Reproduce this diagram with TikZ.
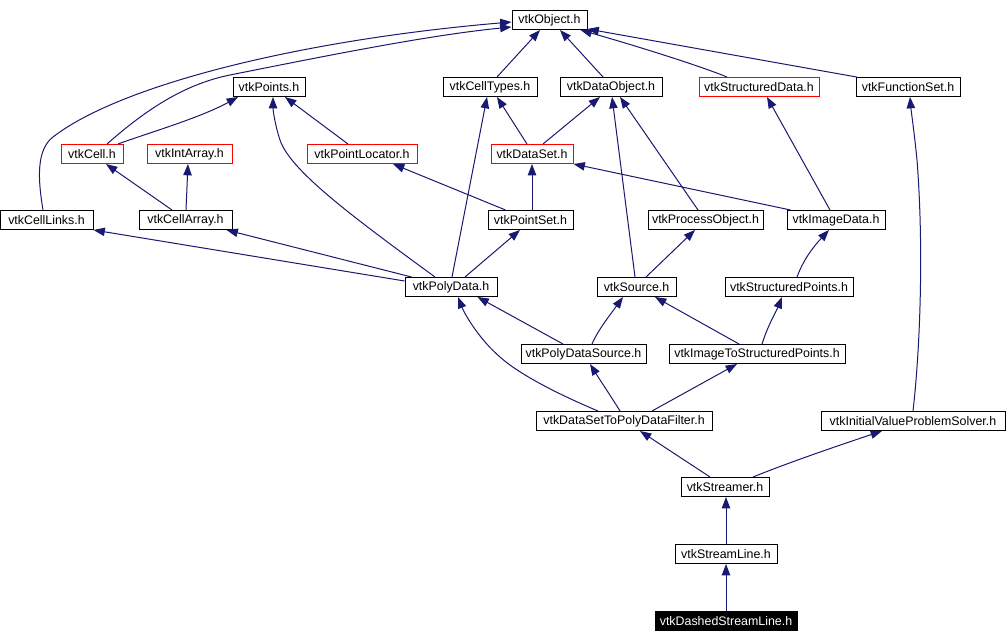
\documentclass[tikz,border=0pt]{standalone}
\usepackage{fontspec}
\setmainfont{Liberation Sans}
\usetikzlibrary{arrows.meta,calc}
\definecolor{edgeblue}{RGB}{25,25,112}
\definecolor{boxred}{RGB}{255,0,0}
\begin{document}
\begin{tikzpicture}[x=0.75pt,y=-0.75pt,
  box/.style={draw=black,line width=0.75pt,fill=white,inner sep=0pt,
    minimum height=14.25pt,font=\fontsize{9.3}{10}\selectfont,text=black},
  redbox/.style={box,draw=boxred},
  selbox/.style={box,fill=black,text=white},
  wd/.style={minimum width=#1*0.75pt},
  edge/.style={draw=edgeblue,line width=0.75pt,
    -{Triangle[length=8.5pt,width=6.3pt]},fill=none}]
\fill[white] (0,0) rectangle (1006,642);
\useasboundingbox (0,0) rectangle (1006,642);

% nodes
\node[box,wd=75] (obj) at (549.5,20) {vtkObject.h};
\node[box,wd=72] (points) at (269,87) {vtkPoints.h};
\node[box,wd=94] (celltypes) at (490,87) {vtkCellTypes.h};
\node[box,wd=102] (dataobject) at (611,87) {vtkDataObject.h};
\node[redbox,wd=120] (structdata) at (759,87) {vtkStructuredData.h};
\node[box,wd=104] (funcset) at (908,87) {vtkFunctionSet.h};
\node[redbox,wd=62] (cell) at (92,154) {vtkCell.h};
\node[redbox,wd=85] (intarray) at (189.5,154) {vtkIntArray.h};
\node[redbox,wd=110] (pointloc) at (362,154) {vtkPointLocator.h};
\node[redbox,wd=82] (dataset) at (532,154) {vtkDataSet.h};
\node[box,wd=93] (celllinks) at (46.5,220) {vtkCellLinks.h};
\node[box,wd=93] (cellarray) at (185.5,220) {vtkCellArray.h};
\node[box,wd=85] (pointset) at (530.5,220) {vtkPointSet.h};
\node[box,wd=115] (procobj) at (705.5,220) {vtkProcessObject.h};
\node[box,wd=98] (imagedata) at (836,220) {vtkImageData.h};
\node[box,wd=92] (polydata) at (451,287) {vtkPolyData.h};
\node[box,wd=79] (source) at (636.5,287) {vtkSource.h};
\node[box,wd=128] (structpoints) at (789,287) {vtkStructuredPoints.h};
\node[box,wd=125] (pdsource) at (583.5,354) {vtkPolyDataSource.h};
\node[box,wd=176] (imgtosp) at (757,354) {vtkImageToStructuredPoints.h};
\node[box,wd=176] (dstopdf) at (624,421) {vtkDataSetToPolyDataFilter.h};
\node[box,wd=184] (ivps) at (913,421) {vtkInitialValueProblemSolver.h};
\node[box,wd=88] (streamer) at (725,487) {vtkStreamer.h};
\node[box,wd=102] (streamline) at (726,554) {vtkStreamLine.h};
\node[selbox,wd=142] (dashed) at (726,621) {vtkDashedStreamLine.h};

% edges (child -> parent)
\draw[edge] ($(celllinks.north)+(-3.5,0)$) .. controls (38,180) and (36,150) .. (53,137)
  .. controls (120,85) and (300,40) .. ($(obj.west)+(0,2)$);
\draw[edge] ($(cell.north)+(15,0)$) .. controls (140,115) and (180,85) .. (230,75)
  .. controls (330,55) and (430,35) .. ($(obj.west)+(0,7)$);
\draw[edge] ($(cell.north)+(26,0)$) .. controls (145,134) and (200,118) .. ($(points.south)+(-31,0)$);
\draw[edge] ($(cellarray.north)+(-13.5,0)$) -- ($(cell.south)+(14,0)$);
\draw[edge] ($(cellarray.north)+(0.5,0)$) -- ($(intarray.south)+(-1.5,0)$);
\draw[edge] ($(polydata.north west)+(0,4)$) -- (celllinks.south east);
\draw[edge] ($(polydata.north west)+(7,0)$) -- ($(cellarray.south east)+(-6,0)$);
\draw[edge] ($(polydata.north)+(-16,0)$) .. controls (350,215) and (290,170) .. (280,140)
  .. controls (275,125) and (273,110) .. ($(points.south)+(4,0)$);
\draw[edge] ($(polydata.north)+(1,0)$) -- ($(celltypes.south)+(-3,0)$);
\draw[edge] ($(pointloc.north)+(-14,0)$) -- ($(points.south)+(16,0)$);
\draw[edge] ($(pointset.north)+(-25,0)$) -- ($(pointloc.south)+(31,0)$);
\draw[edge] ($(pointset.north)+(1.5,0)$) -- (dataset.south);
\draw[edge] ($(polydata.north)+(14,0)$) -- ($(pointset.south)+(-10.5,0)$);
\draw[edge] ($(dataset.north)+(-5,0)$) -- ($(celltypes.south)+(7,0)$);
\draw[edge] ($(dataset.north)+(11,0)$) -- ($(dataobject.south)+(-11,0)$);
\draw[edge] ($(celltypes.north)+(7,0)$) -- ($(obj.south)+(-9.5,0)$);
\draw[edge] ($(dataobject.north)+(-8,0)$) -- ($(obj.south)+(10.5,0)$);
\draw[edge] ($(structdata.north)+(-32,0)$) .. controls (700,66) and (640,47) .. ($(obj.south east)+(-7,0)$);
\draw[edge] ($(funcset.north west)+(1,0)$) -- ($(obj.south east)+(0,-1)$);
\draw[edge] ($(source.north)+(-1.5,0)$) -- ($(dataobject.south)+(1,0)$);
\draw[edge] ($(procobj.north)+(-7.5,0)$) -- ($(dataobject.south)+(9,0)$);
\draw[edge] ($(imagedata.north west)+(4,0)$) -- (dataset.south east);
\draw[edge] ($(imagedata.north)+(-6,0)$) -- ($(structdata.south)+(8,0)$);
\draw[edge] (ivps.north) .. controls (920,350) and (924,250) .. (917,160)
  .. controls (914,130) and (911,110) .. ($(funcset.south)+(2,0)$);
\draw[edge] ($(source.north)+(9.5,0)$) -- ($(procobj.south)+(-10.5,0)$);
\draw[edge] ($(structpoints.north)+(8,0)$) .. controls (804,258) and (815,245) .. ($(imagedata.south)+(-7,0)$);
\draw[edge] ($(pdsource.north)+(-20.5,0)$) -- ($(polydata.south east)+(-20,0)$);
\draw[edge] ($(pdsource.north)+(8.5,0)$) .. controls (598,330) and (610,315) .. ($(source.south)+(-13.5,0)$);
\draw[edge] ($(dstopdf.north)+(-26,0)$) .. controls (560,395) and (520,375) .. (500,357)
  .. controls (480,340) and (465,315) .. ($(polydata.south)+(7,0)$);
\draw[edge] ($(dstopdf.north)+(-4,0)$) .. controls (612,398) and (600,380) .. ($(pdsource.south)+(6.5,0)$);
\draw[edge] ($(dstopdf.north)+(28,0)$) -- ($(imgtosp.south)+(-20,0)$);
\draw[edge] ($(imgtosp.north)+(-18,0)$) -- ($(source.south)+(18.5,0)$);
\draw[edge] ($(imgtosp.north)+(5,0)$) .. controls (768,325) and (776,312) .. ($(structpoints.south)+(-7,0)$);
\draw[edge] ($(streamer.north)+(-15,0)$) -- ($(dstopdf.south)+(16,0)$);
\draw[edge] ($(streamer.north)+(28,0)$) .. controls (790,462) and (840,445) .. ($(ivps.south)+(-31,0)$);
\draw[edge] (streamline.north) -- (streamline.north |- streamer.south);
\draw[edge] (dashed.north) -- (streamline.south);
\end{tikzpicture}
\end{document}
